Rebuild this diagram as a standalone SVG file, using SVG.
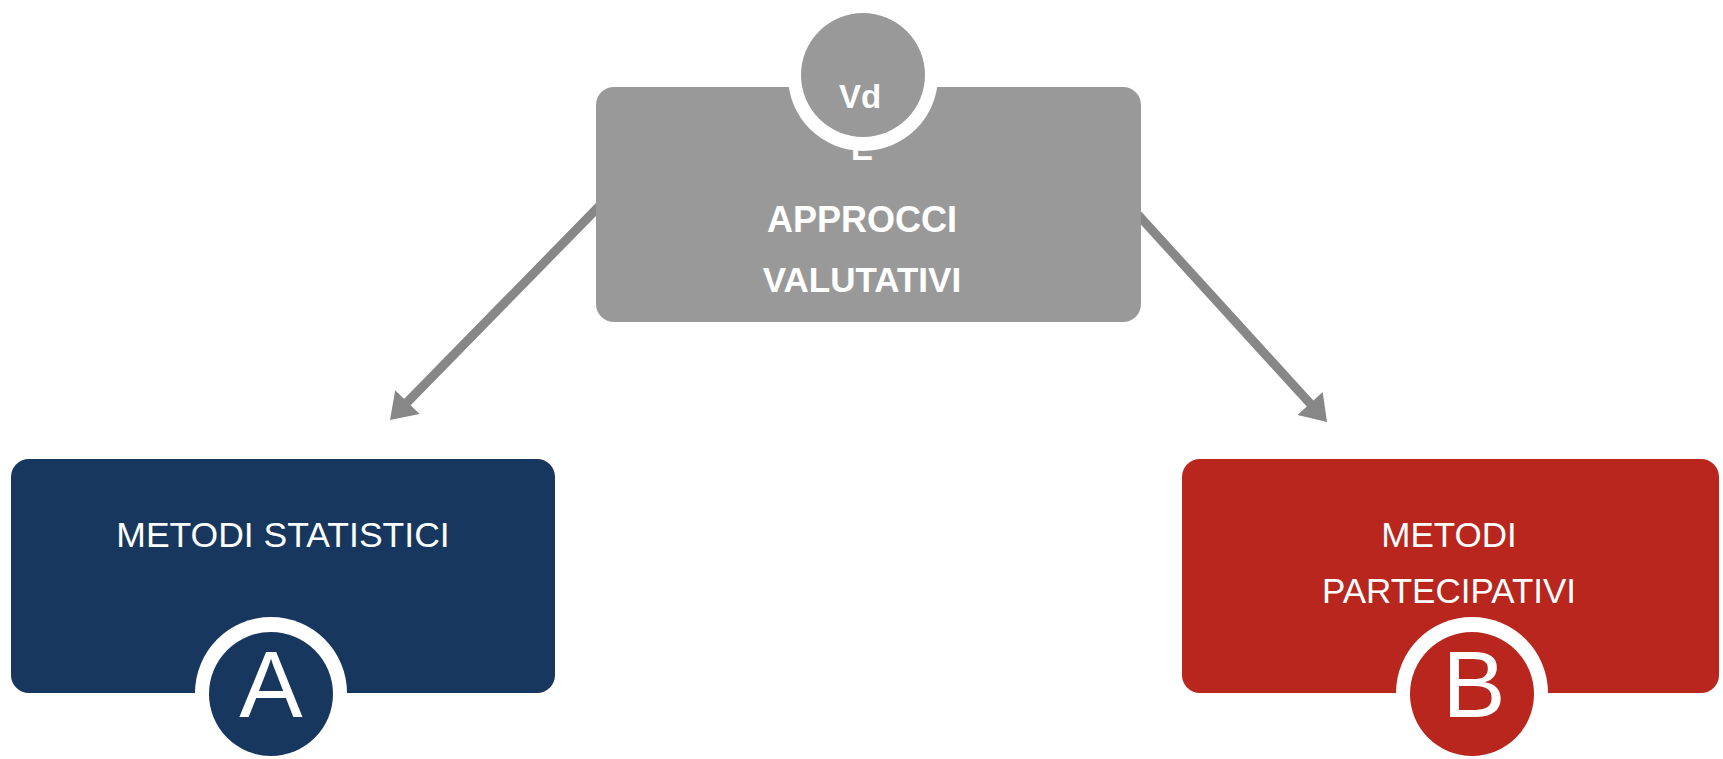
<svg xmlns="http://www.w3.org/2000/svg" width="1723" height="759" viewBox="0 0 1723 759">
<style>
.lbl{font-family:"Liberation Sans",Arial,sans-serif;fill:#ffffff;text-anchor:middle}
.b{font-weight:bold}
.big{font-size:95px}
.conn{stroke:#878787;stroke-width:9;fill:none}
.head{fill:#878787;stroke:none}
</style>
<rect width="1723" height="759" fill="#ffffff"/>
<g id="connectors">
<line class="conn" x1="618" y1="187" x2="406" y2="403.5"/>
<polygon class="head" points="390,420 419.6,413.9 395.2,390.3"/>
<line class="conn" x1="1120" y1="195" x2="1311" y2="404.5"/>
<polygon class="head" points="1327,422 1297.5,415 1322.7,392"/>
</g>
<g id="node-approcci">
<rect x="596" y="87" width="545" height="235" rx="18" fill="#999999"/>
<circle cx="863" cy="76" r="75" fill="#ffffff"/>
<circle cx="863" cy="75" r="62" fill="#999999"/>
<text class="lbl b" x="860" y="108" font-size="33">Vd</text>
<text class="lbl b" x="862" y="160" font-size="33">E</text>
<text class="lbl b" x="862" y="232" font-size="36">APPROCCI</text>
<text class="lbl b" x="862" y="292" font-size="35">VALUTATIVI</text>
</g>
<g id="node-statistici">
<rect x="11" y="459" width="544" height="234" rx="18" fill="#17375e"/>
<circle cx="271" cy="693" r="76" fill="#ffffff"/>
<circle cx="271" cy="694" r="62" fill="#17375e"/>
<text class="lbl" x="283" y="547" font-size="35.5">METODI STATISTICI</text>
<text class="lbl big" x="271" y="717">A</text>
</g>
<g id="node-partecipativi">
<rect x="1182" y="459" width="537" height="234" rx="18" fill="#b8261e"/>
<circle cx="1472" cy="693" r="76" fill="#ffffff"/>
<circle cx="1472" cy="694" r="62" fill="#b8261e"/>
<text class="lbl" x="1449" y="547" font-size="35">METODI</text>
<text class="lbl" x="1449" y="603" font-size="35">PARTECIPATIVI</text>
<text class="lbl big" x="1474" y="717">B</text>
</g>
</svg>
